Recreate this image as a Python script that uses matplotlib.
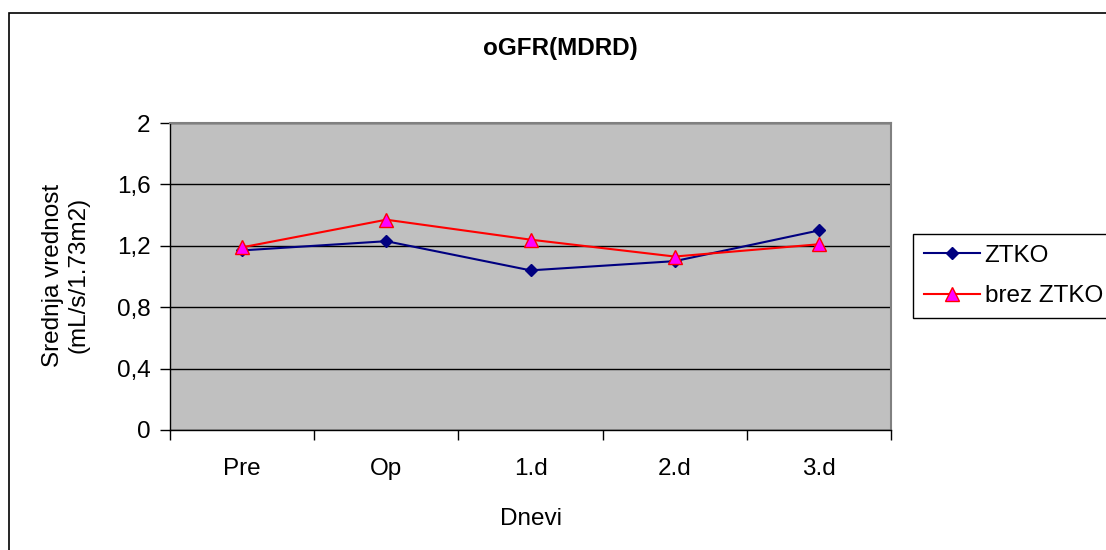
import matplotlib.pyplot as plt
from matplotlib.patches import Rectangle

plt.rcParams['font.family'] = ['Liberation Sans', 'DejaVu Sans']

dnevi = ['Pre', 'Op', '1.d', '2.d', '3.d']
ztko = [1.17, 1.23, 1.04, 1.10, 1.30]
brez_ztko = [1.19, 1.37, 1.24, 1.13, 1.21]
y_ticks = [0, 0.4, 0.8, 1.2, 1.6, 2.0]
y_tick_labels = ['0', '0,4', '0,8', '1,2', '1,6', '2']

fig = plt.figure(figsize=(11.06, 5.5), dpi=100)
ax = fig.add_axes([170 / 1106, 1 - 430 / 550, 721 / 1106, 307 / 550])

# okvir okoli celotnega grafa
fig.patches.append(Rectangle((9 / 1106, -0.1), 1.2, 1.1 - 13 / 550,
                             transform=fig.transFigure, fill=False,
                             edgecolor='black', linewidth=1.2))

ax.set_facecolor('#C0C0C0')
x = range(len(dnevi))
ax.plot(x, ztko, color='#000080', linewidth=1.5, marker='D', markersize=6.5,
        markerfacecolor='#000080', markeredgecolor='#000080', label='ZTKO', zorder=3)
ax.plot(x, brez_ztko, color='#FF0000', linewidth=1.5, marker='^', markersize=9.5,
        markerfacecolor='#FF00FF', markeredgecolor='#FF0000', label='brez ZTKO', zorder=4)

ax.set_xlim(-0.5, len(dnevi) - 0.5)
ax.set_ylim(0, 2)
ax.set_yticks(y_ticks)
ax.set_yticklabels(y_tick_labels)
ax.set_xticks(list(x))
ax.set_xticklabels(dnevi)
ax.set_xticks([i - 0.5 for i in range(len(dnevi) + 1)], minor=True)
ax.tick_params(axis='x', which='major', length=0, pad=20, labelsize=17.5)
ax.tick_params(axis='x', which='minor', length=7, width=1, direction='out', color='black')
ax.tick_params(axis='y', length=7, width=1, direction='out', pad=7, labelsize=17.5)

ax.yaxis.grid(True, color='black', linewidth=1)
ax.set_axisbelow(True)
for side in ['top', 'right']:
    ax.spines[side].set_color('#808080')
    ax.spines[side].set_linewidth(1.5)
for side in ['left', 'bottom']:
    ax.spines[side].set_color('black')
    ax.spines[side].set_linewidth(1)

fig.text(560 / 1106, 1 - 49 / 550, 'oGFR(MDRD)', ha='center', va='center',
         fontsize=17.5, fontweight='bold')
ax.set_xlabel('Dnevi', fontsize=17.5, labelpad=20)
fig.text(66 / 1106, 1 - 275 / 550, 'Srednja vrednost\n(mL/s/1.73m2)', rotation=90,
         ha='center', va='center', multialignment='center', fontsize=17.5)

leg = ax.legend(loc='upper left', bbox_to_anchor=(913 / 1106, 1 - 234 / 550),
                bbox_transform=fig.transFigure, fontsize=17.5, frameon=True,
                fancybox=False, edgecolor='black', framealpha=1,
                handlelength=2.3, handletextpad=0.2, borderpad=0.45,
                labelspacing=0.75, borderaxespad=0)
leg.get_frame().set_linewidth(1)

fig.savefig('out.png', dpi=100)
